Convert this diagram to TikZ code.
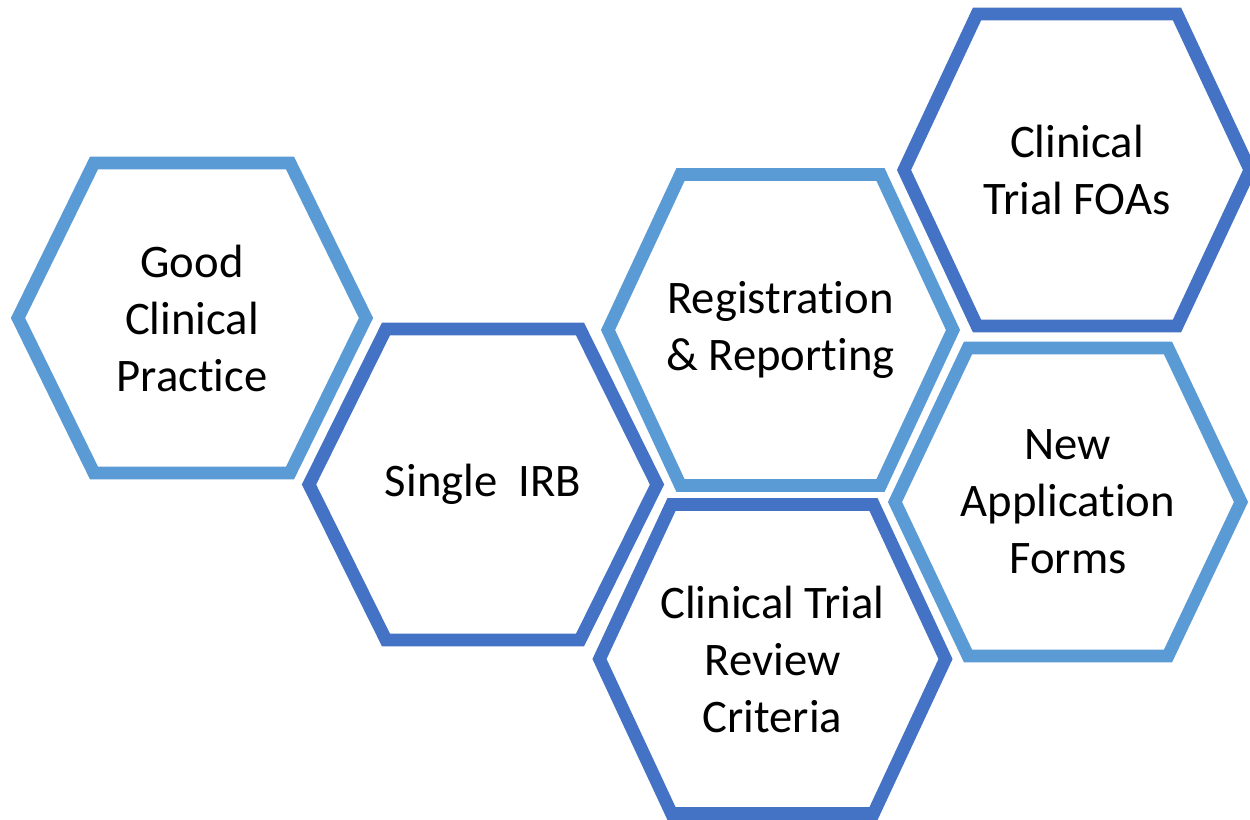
\documentclass[tikz,border=0pt]{standalone}
\usepackage{fontspec}
\setmainfont{Carlito}[Ligatures={NoCommon}]
\definecolor{lightb}{HTML}{5B9BD5}
\definecolor{darkb}{HTML}{4472C4}
% #1 name, #2 cx, #3 cy, #4 half width, #5 half top, #6 half height, #7 colour, #8 text
\newcommand\hexcell[8]{%
  \draw[hexline,#7] ({#2-#4},{#3}) -- ({#2-#5},{#3-#6}) -- ({#2+#5},{#3-#6})
     -- ({#2+#4},{#3}) -- ({#2+#5},{#3+#6}) -- ({#2-#5},{#3+#6}) -- cycle;
  \node[hextext] (#1) at (#2,#3) {#8};%
}
\tikzset{
  hexline/.style={line width=9.6pt, line join=miter},
  hextext/.style={align=center, inner sep=0pt, font=\fontsize{35}{42.75}\selectfont, text=black}
}
\begin{document}
\begin{tikzpicture}[x=0.75pt,y=-0.75pt]
\useasboundingbox (0,0) rectangle (1250,819);
\hexcell{gcp}{192}{318}{174}{98}{155}{lightb}{Good\\Clinical\\Practice}
\hexcell{irb}{483}{484.5}{174}{97}{155.5}{darkb}{Single\ \ IRB}
\hexcell{reg}{780.5}{330}{172.5}{100}{155.5}{lightb}{Registration\\\& Reporting}
\hexcell{foa}{1077}{170}{173}{100}{156}{darkb}{Clinical\\Trial FOAs}
\hexcell{form}{1068}{502}{173}{100}{154}{lightb}{New\\Application\\Forms}
\hexcell{crit}{772.5}{659}{173}{101}{154.5}{darkb}{Clinical Trial\\Review\\Criteria}
\end{tikzpicture}
\end{document}
